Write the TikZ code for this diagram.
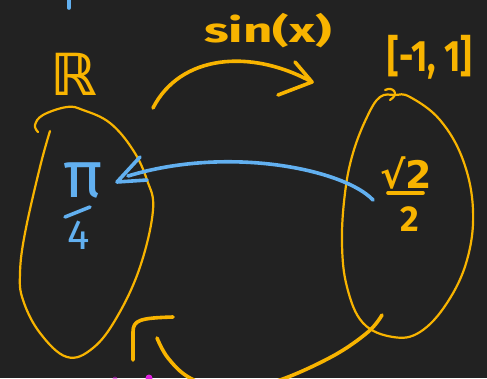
\documentclass[tikz,border=0pt]{standalone}
\usepackage{fontspec}
\setmainfont{Fira Sans}
\newfontfamily\symfont{DejaVu Sans}
\begin{document}
\begin{tikzpicture}[x=1pt,y=-1pt,line cap=round,line join=round,
  blob/.style={draw=gold,line width=2.2pt},
  stroke/.style={draw=gold,line width=3.6pt},
  bstroke/.style={draw=sky,line width=3.6pt},
  lab/.style={text=gold,inner sep=0pt},
  blab/.style={text=sky,inner sep=0pt}]
\definecolor{bg}{HTML}{222222}
\definecolor{gold}{HTML}{F8B400}
\definecolor{sky}{HTML}{62B0F0}
\definecolor{pink}{HTML}{E020E0}
\fill[bg] (0,0) rectangle (487,378);
\useasboundingbox (0,0) rectangle (487,378);
\clip (0,0) rectangle (487,378);
% blue tick at top
\draw[bstroke] (69,-2) -- (69,8);
% labels
\node[lab,font=\symfont\bfseries\fontsize{58}{60}\selectfont] (R) at (74,74) {ℝ};
\node[lab,font=\bfseries\fontsize{34}{40}\selectfont,xscale=1.5,transform shape] (sin) at (268,31) {sin(x)};
\node[lab,font=\bfseries\fontsize{44}{50}\selectfont,xscale=0.8,transform shape] (int) at (430,57) {[-1, 1]};
% left blob
\draw[blob] plot[smooth,tension=0.65] coordinates {(50,131) (40,167) (25,233) (20,273) (23,300) (40,333) (67,357) (93,348) (117,317) (140,267) (153,210) (147,180) (133,150) (110,123) (83,110) (67,107) (43,115) (35,125) (38,132)};
% right blob
\draw[blob] plot[smooth cycle,tension=0.65] coordinates {(380,97) (367,117) (353,153) (345,193) (342,243) (347,287) (363,323) (393,337) (420,332) (447,303) (467,260) (473,210) (463,160) (440,120) (410,97) (395,95)};
\draw[blob] (385,90) .. controls (393,86) and (400,94) .. (390,100);
% pi/4
\node[blab,font=\fontsize{66}{70}\selectfont] (pi) at (83,180) {π};
\node[blab,font=\fontsize{42}{46}\selectfont] (four) at (79,235) {4};
\draw[bstroke] (65,217) -- (90,207);
% sqrt2/2
\node[lab,font=\symfont\bfseries\fontsize{38}{42}\selectfont] (sq) at (406,173) {√2};
\node[lab,font=\bfseries\fontsize{36}{40}\selectfont] (two) at (410,219) {2};
\draw[stroke] (388,193) -- (423,193);
% sin arrow
\coordinate (a1) at (153,108);
\coordinate (a2) at (312,82);
\draw[stroke] (a1) .. controls (180,55) and (250,48) .. (a2);
\draw[stroke] (295,62) -- (a2) -- (278,95);
% blue arrow
\coordinate (b1) at (373,200);
\coordinate (b2) at (117,182);
\draw[bstroke] (b1) .. controls (345,170) and (230,145) .. (128,176);
\draw[bstroke] (140,157) -- (b2) -- (147,180);
% bottom arrow
\draw[stroke] plot[smooth,tension=0.6] coordinates {(382,315) (368,332) (333,356) (280,380) (230,392) (190,378) (168,358) (157,338)};
\draw[stroke] (133,360) -- (133,332) .. controls (133,320) and (140,318) .. (173,317);
% magenta marks
\fill[pink] (149,378) circle (3.5);
\fill[pink,opacity=0.5] (115,379) circle (2.5);
\end{tikzpicture}
\end{document}
